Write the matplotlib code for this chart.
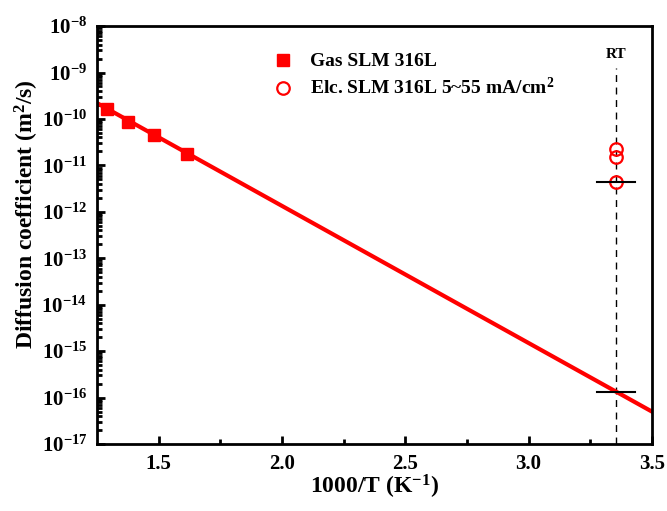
import numpy as np
import matplotlib
matplotlib.use("Agg")
import matplotlib.pyplot as plt
from matplotlib.ticker import LogLocator, FixedLocator, NullFormatter

plt.rcParams['font.family'] = ['Liberation Serif', 'DejaVu Serif']
plt.rcParams['font.weight'] = 'bold'
plt.rcParams['mathtext.fontset'] = 'custom'
plt.rcParams['mathtext.rm'] = 'Liberation Serif:bold'
plt.rcParams['mathtext.bf'] = 'Liberation Serif:bold'
plt.rcParams['mathtext.it'] = 'Liberation Serif:bold:italic'

# data
gas_x = [1.29, 1.376, 1.482, 1.616]
gas_d = [1.6e-10, 8.5e-11, 4.5e-11, 1.8e-11]

elc_x = [3.356, 3.356, 3.356]
elc_d = [2.3e-11, 1.5e-11, 4.4e-12]

fit_x = [1.25, 3.5]
fit_d = [2.2e-10, 5.0e-17]

rt_x = 3.356
hmark_d = [4.4e-12, 1.35e-16]

x_ticks = [1.5, 2.0, 2.5, 3.0, 3.5]
x_ticklabels = ["1.5", "2.0", "2.5", "3.0", "3.5"]
y_exps = list(range(-17, -7))

fig = plt.figure(figsize=(6.67, 5.11), dpi=100)
ax = fig.add_axes([0.1454, 0.131, 0.832, 0.818])

ax.plot(fit_x, fit_d, color="red", lw=3, zorder=2)
ax.plot(gas_x, gas_d, ls="none", marker="s", ms=9, color="red",
        label="Gas SLM 316L", zorder=3)
ax.plot(elc_x, elc_d, ls="none", marker="o", ms=9, mfc="none", mec="red",
        mew=1.6, label="Elc. SLM 316L 5~55 mA/cm$^{2}$", zorder=3)

# RT line and markers
ax.axvline(rt_x, ymax=0.90, color="black", lw=1, ls=(0, (5, 4)), zorder=1)
for d in hmark_d:
    ax.plot([rt_x - 0.08, rt_x + 0.075], [d, d], color="black", lw=1.5, zorder=4)
ax.text(rt_x, 2.4e-9, "RT", ha="center", va="center", fontsize=11, fontweight="bold")

ax.set_yscale("log")
ax.set_xlim(1.25, 3.5)
ax.set_ylim(1e-17, 1e-8)

ax.xaxis.set_major_locator(FixedLocator(x_ticks))
ax.set_xticklabels(x_ticklabels)
ax.xaxis.set_minor_locator(FixedLocator([1.75, 2.25, 2.75, 3.25]))
ax.yaxis.set_major_locator(FixedLocator([10.0 ** e for e in y_exps]))
ax.set_yticklabels([r"$\mathregular{10^{%d}}$" % e for e in y_exps])
ax.yaxis.set_minor_locator(LogLocator(base=10, subs=np.arange(2, 10), numticks=20))
ax.yaxis.set_minor_formatter(NullFormatter())

ax.tick_params(which="both", direction="in", top=False, right=False, labelsize=15, width=2)
ax.tick_params(which="major", length=6)
ax.tick_params(which="minor", length=3.5)
ax.tick_params(axis="y", pad=7)
ax.tick_params(axis="x", pad=7)
for lab in ax.get_xticklabels() + ax.get_yticklabels():
    lab.set_fontweight("bold")
for sp in ax.spines.values():
    sp.set_linewidth(2)

ax.set_xlabel("1000/T (K$^{-1}$)", fontsize=17, fontweight="bold")
ax.set_ylabel("Diffusion coefficient (m$^{2}$/s)", fontsize=17, fontweight="bold")
ax.xaxis.set_label_coords(0.5, -0.07)
ax.yaxis.set_label_coords(-0.10, 0.55)

ax.legend(loc="upper left", bbox_to_anchor=(0.309, 0.936), frameon=False,
          fontsize=14, handlelength=1.5, handletextpad=0.64, labelspacing=0.35,
          borderpad=0, borderaxespad=0)

fig.savefig("out.png", dpi=100)
